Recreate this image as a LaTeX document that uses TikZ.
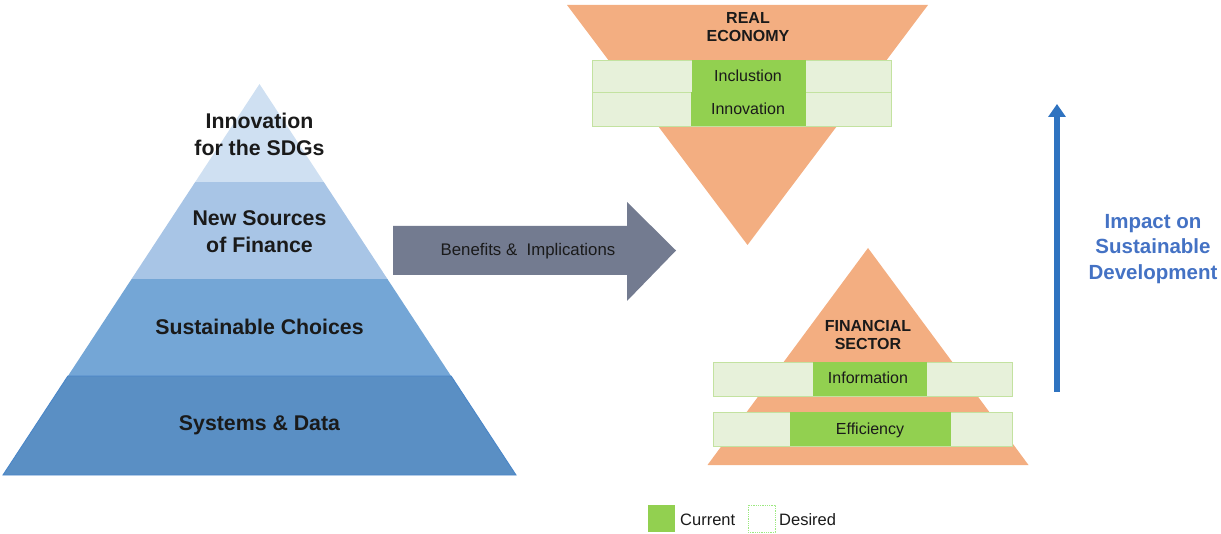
\documentclass[tikz,border=0pt]{standalone}
\usepackage{fontspec}
\setmainfont{Liberation Sans}
\usetikzlibrary{arrows.meta}
\definecolor{lay1}{HTML}{CFE0F2}
\definecolor{lay2}{HTML}{A8C5E6}
\definecolor{lay3}{HTML}{74A6D6}
\definecolor{lay4}{HTML}{5A8FC4}
\definecolor{layedge}{HTML}{4A86C8}
\definecolor{orangefill}{HTML}{F3AE81}
\definecolor{greencur}{HTML}{92D050}
\definecolor{greendes}{HTML}{E7F1DA}
\definecolor{greenedge}{HTML}{C3E2A0}
\definecolor{arrowgrey}{HTML}{737B90}
\definecolor{impactblue}{HTML}{2F73C0}
\definecolor{impacttext}{HTML}{4472C4}
\definecolor{txt}{HTML}{1A1A1A}
\tikzset{
  pyrtext/.style={font=\fontsize{21.3}{27}\selectfont\bfseries, text=txt, align=center, inner sep=0pt},
  sectortext/.style={font=\fontsize{16}{18}\selectfont\bfseries, text=txt, align=center, inner sep=0pt},
  bartext/.style={font=\fontsize{16}{18}\selectfont, text=txt, inner sep=0pt},
  desiredbar/.style={fill=greendes, draw=greenedge, line width=0.8pt},
  currentbar/.style={fill=greencur},
}
\begin{document}
\begin{tikzpicture}[x=1pt,y=-1pt]
\useasboundingbox (0,0) rectangle (1221,534);
% ---------- left pyramid ----------
\begin{scope}
  \clip (259.5,84) -- (516,475) -- (3,475) -- cycle;
  \fill[lay1] (0,80) rectangle (530,182);
  \fill[lay2] (0,182) rectangle (530,279);
  \fill[lay3] (0,279) rectangle (530,376);
  \fill[lay4] (0,376) rectangle (530,476);
\end{scope}
\draw[layedge, line width=0.9pt] (67.9,376) -- (451.1,376) -- (516,475) -- (3,475) -- cycle;
\node[pyrtext] (l1) at (259.5,134) {Innovation\\for the SDGs};
\node[pyrtext] (l2) at (259.5,232) {New Sources\\of Finance};
\node[pyrtext] (l3) at (259.5,327) {Sustainable Choices};
\node[pyrtext] (l4) at (259.5,425) {Systems \& Data};
% ---------- grey arrow ----------
\fill[arrowgrey] (393,226) -- (627,226) -- (627,202) -- (676,250.5) -- (627,301) -- (627,275) -- (393,275) -- cycle;
\node[font=\fontsize{16.8}{18}\selectfont, text=txt, inner sep=0pt] (benefits) at (528,251) {Benefits \&\ \ Implications};
% ---------- real economy ----------
\fill[orangefill] (567,5) -- (928,5) -- (747.5,245) -- cycle;
\node[sectortext] (real) at (748,27) {REAL\\ECONOMY};
\draw[desiredbar] (592,60) rectangle (891,92);
\draw[desiredbar] (592,92) rectangle (891,126);
\fill[currentbar] (692,60) rectangle (806,92);
\fill[currentbar] (691,92) rectangle (806,126);
\node[bartext] (inclusion) at (748,76) {Inclustion};
\node[bartext] (innovation) at (748,109) {Innovation};
% ---------- financial sector ----------
\fill[orangefill] (868,248) -- (1028.5,465) -- (707.5,465) -- cycle;
\node[sectortext] (fin) at (868,335) {FINANCIAL\\SECTOR};
\draw[desiredbar] (713,362) rectangle (1012,396);
\fill[currentbar] (813,362) rectangle (927,396);
\draw[desiredbar] (713,412) rectangle (1012,446);
\fill[currentbar] (790,412) rectangle (951,446);
\node[bartext] (information) at (868,378) {Information};
\node[bartext] (efficiency) at (870,430) {Efficiency};
% ---------- impact arrow ----------
\coordinate (impbottom) at (1057,392);
\coordinate (imptop) at (1057,104);
\draw[impactblue, line width=5.5pt, -{Triangle[width=17pt,length=13pt]}] (impbottom) -- (imptop);
\node[font=\fontsize{20.5}{25.5}\selectfont\bfseries, text=impacttext, align=center, inner sep=0pt] (impact) at (1153,249) {Impact on\\Sustainable\\Development};
% ---------- legend ----------
\fill[greencur] (648,505) rectangle (675,532);
\node[bartext, font=\fontsize{16.5}{18}\selectfont, anchor=west] (current) at (680,520) {Current};
\draw[greenedge!80!green, densely dotted, line width=0.8pt, fill=white] (748,505) rectangle (775,532);
\node[bartext, font=\fontsize{16.5}{18}\selectfont, anchor=west] (desired) at (779,520) {Desired};
\end{tikzpicture}
\end{document}
